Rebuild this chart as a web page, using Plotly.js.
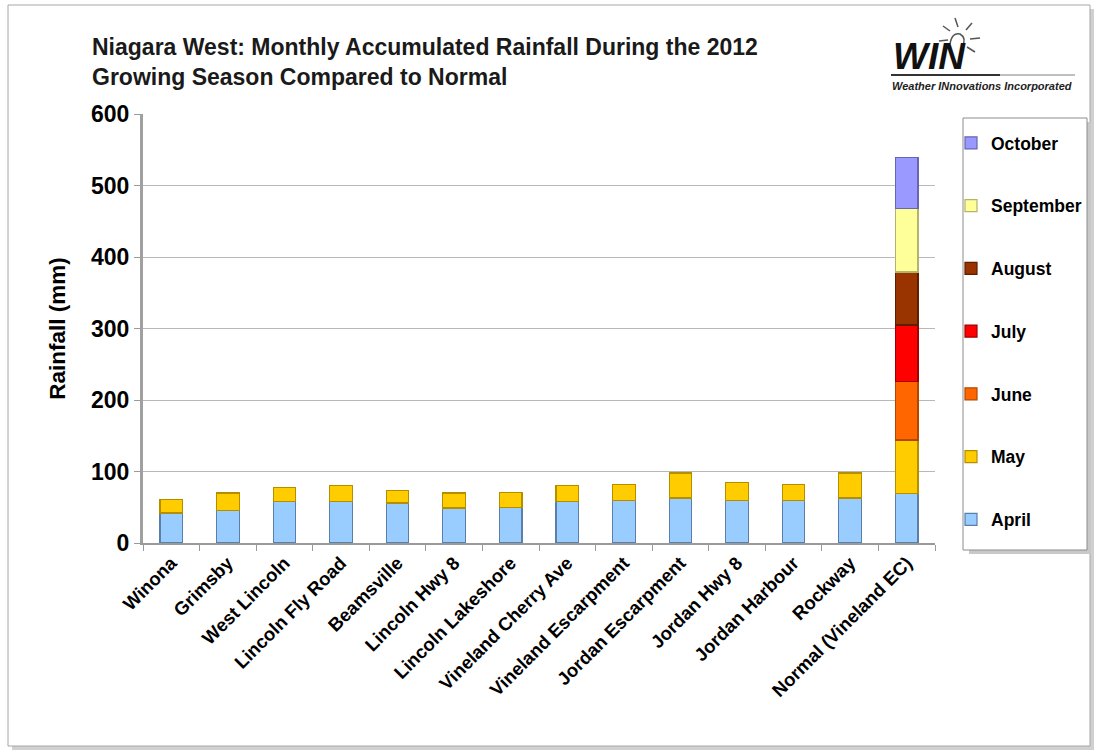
<!DOCTYPE html>
<html>
<head>
<meta charset="utf-8">
<script src="https://cdn.plot.ly/plotly-3.0.1.min.js"></script>
<style>html,body{margin:0;padding:0;background:#fff;}#chart{width:1097px;height:752px;}</style>
</head>
<body>
<div id="chart"></div>
<script>
var stations = ["Winona","Grimsby","West Lincoln","Lincoln Fly Road","Beamsville","Lincoln Hwy 8","Lincoln Lakeshore","Vineland Cherry Ave","Vineland Escarpment","Jordan Escarpment","Jordan Hwy 8","Jordan Harbour","Rockway","Normal (Vineland EC)"];
var april = [42,46,58,58,56,49,50,58,60,63,60,60,63,69];
var may = [19,24,20,22,17,21,21,22,22,35,25,22,35,75];
var june = [null,null,null,null,null,null,null,null,null,null,null,null,null,82];
var july = [null,null,null,null,null,null,null,null,null,null,null,null,null,79];
var august = [null,null,null,null,null,null,null,null,null,null,null,null,null,74];
var september = [null,null,null,null,null,null,null,null,null,null,null,null,null,89];
var october = [null,null,null,null,null,null,null,null,null,null,null,null,null,71];
var monthNames = ["April","May","June","July","August","September","October"];
var yTicks = [0,100,200,300,400,500,600];

var series = [april, may, june, july, august, september, october];
var fills = ["#99CCFF","#FFCC00","#FF6600","#FF0000","#993300","#FFFF99","#9999FF"];
var edges = ["#5A7FA8","#B38F00","#B34700","#A00000","#5C1F00","#B3B36B","#6666B3"];

var FONT = 'Liberation Sans, Arial, sans-serif';

var traces = series.map(function(v, i){
  return {
    type: 'bar', name: monthNames[i], x: stations, y: v,
    legendgroup: monthNames[i], legendrank: 100 - i,
    marker: {color: fills[i], line: {color: edges[i], width: 1.2}},
    width: 0.4, hoverinfo: 'x+y+name'
  };
});

// layout geometry (pixels)
var W = 1097, H = 752;
var L = 143, PR = 1097, T = 114, B = 543;   // paper area
var AXR = 935;                               // x-axis right end
function px(x){return (x-L)/(PR-L);}
function py(y){return (B-y)/(B-T);}

function line(x0,y0,x1,y1,c,w){return {type:'line', xref:'paper', yref:'paper', x0:px(x0), x1:px(x1), y0:py(y0), y1:py(y1), line:{color:c, width:w}};}

var shapes = [
  {type:'rect', xref:'paper', yref:'paper', x0:px(12), x1:px(1094), y0:py(9), y1:py(750), line:{width:0}, fillcolor:'#d0d0d0', layer:'below'},
  {type:'rect', xref:'paper', yref:'paper', x0:px(8), x1:px(1090), y0:py(5), y1:py(746), line:{color:'#a6a6a6', width:1}, fillcolor:'#ffffff', layer:'below'},
  {type:'rect', xref:'paper', yref:'paper', x0:px(969), x1:px(1091), y0:py(122), y1:py(554), line:{width:0}, fillcolor:'#c8c8c8', layer:'below'},
  {type:'rect', xref:'paper', yref:'paper', x0:px(963), x1:px(1087), y0:py(118), y1:py(550), line:{color:'#8c8c8c', width:1}, fillcolor:'#ffffff', layer:'below'},
  line(891,75,1000,75,'#333',2.2),
  line(1000,75,1075,75,'#aaa',1.6),
  line(958,27,955,18,'#555',1.5),
  line(966,30,972,23,'#555',1.5),
  line(970,39,980,38,'#555',1.5),
  line(967,47,975,52,'#555',1.5),
  line(950,31,943,26,'#555',1.5),
  line(948,40,939,41,'#555',1.5),
  {type:'path', xref:'paper', yref:'paper',
   path:'M '+px(950)+' '+py(44)+' Q '+px(952)+' '+py(32)+' '+px(960)+' '+py(34)+' Q '+px(967)+' '+py(38)+' '+px(962)+' '+py(47),
   line:{color:'#555', width:1.5}}
];

var annotations = [
  {xref:'paper', yref:'paper', x:px(891), y:py(57), xanchor:'left', yanchor:'middle', showarrow:false,
   text:'<b><i>WIN</i></b>', font:{family:FONT, size:37, color:'#111'}},
  {xref:'paper', yref:'paper', x:px(890), y:py(86), xanchor:'left', yanchor:'middle', showarrow:false,
   text:'<b><i>Weather INnovations Incorporated</i></b>', font:{family:FONT, size:11, color:'#222'}}
];

var layout = {
  width:W, height:H,
  margin:{l:L, r:W-PR, t:T, b:H-B, autoexpand:false},
  paper_bgcolor:'#ffffff', plot_bgcolor:'rgba(0,0,0,0)',
  barmode:'stack',
  font:{family:FONT, color:'#000'},
  title:{
    text:'<b>Niagara West: Monthly Accumulated Rainfall During the 2012<br>Growing Season Compared to Normal</b>',
    xref:'container', yref:'container', x:92/W, xanchor:'left', y:1-55/H, yanchor:'top',
    font:{family:FONT, size:23, color:'#1a1a1a'}
  },
  xaxis:{
    domain:[0, px(AXR)],
    type:'category', tickangle:-45, tickfont:{size:18.5, family:FONT, weight:'bold', color:'#000'},
    showline:true, linecolor:'#9a9a9a', linewidth:2, ticks:'outside', tickson:'boundaries', ticklen:6, tickcolor:'#9a9a9a',
    showgrid:false, zeroline:false, fixedrange:true
  },
  yaxis:{
    range:[0,600], tickvals:yTicks, ticktext:yTicks.map(String),
    tickfont:{size:23, family:FONT, weight:'bold', color:'#000'},
    title:{text:'<b>Rainfall (mm)</b>', font:{size:22.5, family:FONT, color:'#000'}, standoff:20},
    showline:true, linecolor:'#a0a0a0', linewidth:3, ticks:'outside', ticklen:6, tickcolor:'#9a9a9a',
    showgrid:true, gridcolor:'#b8b8b8', gridwidth:1, zeroline:false, fixedrange:true
  },
  showlegend:true,
  legend:{
    x:px(951), y:py(125), xanchor:'left', yanchor:'top',
    bgcolor:'rgba(0,0,0,0)', borderwidth:0, traceorder:'grouped', tracegroupgap:37,
    font:{size:17.5, family:FONT, weight:'bold', color:'#000'},
    itemwidth:30
  },
  shapes:shapes, annotations:annotations
};

Plotly.newPlot('chart', traces, layout, {displayModeBar:false, staticPlot:true});
</script>
</body>
</html>
